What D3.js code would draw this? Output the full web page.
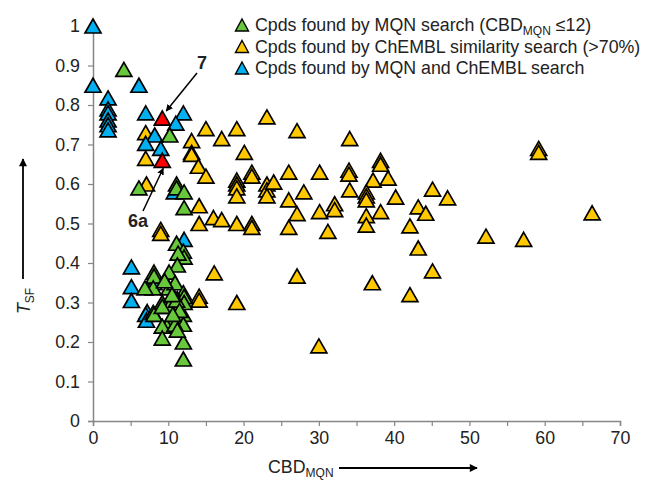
<!DOCTYPE html>
<html>
<head>
<meta charset="utf-8">
<script src="https://cdn.jsdelivr.net/npm/d3@7"></script>
<style>
  html, body { margin: 0; padding: 0; background: #fff; }
  svg { display: block; font-family: "Liberation Sans", Arial, sans-serif; }
</style>
</head>
<body>
<svg id="chart" width="647" height="484"></svg>
<script>
// Compounds found by MQN search only (CBD_MQN, T_SF)
const mqnX = [4.1, 10.2, 6.1, 11.1, 11.1, 12.1, 12.1, 11.1, 12.0, 12.1, 11.3, 11.2, 8.1, 8.1, 10.1, 8.0, 6.9, 10.1, 10.9, 12.0,
              11.2, 9.2, 10.1, 8.0, 8.1, 9.2, 12.0, 12.0, 10.2, 9.8, 9.2, 9.2, 12.0, 12.0, 10.9, 11.2, 12.1, 12.1, 11.1, 9.5,
              10.5, 11.5, 10.6];
const mqnY = [0.89, 0.724, 0.59, 0.60, 0.59, 0.58, 0.54, 0.45, 0.43, 0.415, 0.425, 0.395, 0.377, 0.367, 0.377, 0.337, 0.337, 0.337, 0.35, 0.325,
              0.31, 0.30, 0.29, 0.275, 0.27, 0.29, 0.27, 0.245, 0.255, 0.24, 0.24, 0.21, 0.20, 0.157, 0.245, 0.23, 0.315, 0.30, 0.306, 0.355,
              0.32, 0.28, 0.27];

// Compounds found by ChEMBL similarity search only
const chemblX = [7.0, 7.0, 7.1, 9.0, 9.0, 13.1, 13.1, 13.1, 15.0, 14.0, 15.0, 17.1, 19.1, 23.1, 27.1, 34.1, 20.1, 26.0, 30.1, 34.0,
                 34.0, 19.1, 19.1, 19.1, 21.1, 21.1, 23.1, 23.1, 23.1, 24.0, 19.1, 26.0, 28.0, 14.1, 27.1, 30.1, 32.1, 32.1, 34.1, 16.0,
                 17.1, 19.1, 21.1, 21.1, 14.1, 26.0, 31.2, 59.2, 59.2, 38.2, 38.2, 37.2, 39.2, 36.3, 36.3, 36.3, 40.2, 45.1, 47.1, 43.2,
                 44.2, 38.2, 36.3, 36.3, 42.1, 52.2, 57.2, 66.3, 43.2, 45.1, 37.1, 42.1, 27.1, 19.1, 30.0, 16.1, 14.1, 14.1];
const chemblY = [0.73, 0.665, 0.60, 0.485, 0.475, 0.71, 0.68, 0.675, 0.74, 0.645, 0.62, 0.715, 0.74, 0.77, 0.735, 0.715, 0.68, 0.63, 0.63, 0.635,
                 0.625, 0.61, 0.60, 0.59, 0.63, 0.62, 0.60, 0.585, 0.57, 0.605, 0.57, 0.56, 0.58, 0.545, 0.525, 0.53, 0.55, 0.535, 0.585, 0.515,
                 0.51, 0.50, 0.50, 0.49, 0.50, 0.49, 0.48, 0.69, 0.68, 0.66, 0.65, 0.61, 0.615, 0.58, 0.57, 0.56, 0.567, 0.587, 0.565, 0.542,
                 0.526, 0.53, 0.52, 0.496, 0.494, 0.468, 0.46, 0.527, 0.438, 0.38, 0.35, 0.32, 0.367, 0.30, 0.19, 0.375, 0.316, 0.306];

// Compounds found by both MQN and ChEMBL search
const bothX = [0, 0, 2, 2, 2, 2, 2, 2, 6.1, 7.0, 12.0, 11.0, 8.2, 7.0, 9.0, 10.8, 12.1, 5.1, 5.1, 5.1, 8.1, 7.2, 7.0, 7.1];
const bothY = [1.0, 0.85, 0.818, 0.79, 0.78, 0.762, 0.75, 0.737, 0.85, 0.78, 0.78, 0.754, 0.724, 0.703, 0.69, 0.58, 0.46, 0.39, 0.34, 0.305, 0.35, 0.277, 0.27, 0.255];

// Highlighted compounds 7 and 6a
const highlightX = [9.2, 9.2];
const highlightY = [0.767, 0.66];
const highlightLabels = ["7", "6a"];

const xTicks = [0, 10, 20, 30, 40, 50, 60, 70];
const yTicks = [0, 0.1, 0.2, 0.3, 0.4, 0.5, 0.6, 0.7, 0.8, 0.9, 1];

const legendLabels = [
  ["Cpds found by MQN search (CBD", "MQN", " \u226412)"],
  ["Cpds found by ChEMBL similarity search (>70%)"],
  ["Cpds found by MQN and ChEMBL search"]
];

const colGreen = "#66C83A", colYellow = "#FFC800", colBlue = "#00B0F0", colRed = "#FF0000";
const axisColor = "#868686", textColor = "#222";
const fontSize = 17.8, subSize = 12;

const svg = d3.select("#chart");
const x = d3.scaleLinear().domain([0, 70]).range([93, 620]);
const y = d3.scaleLinear().domain([0, 1]).range([421, 26]);

const tri = (w, h) => `M0,${-h / 2}L${w / 2},${h / 2}L${-w / 2},${h / 2}Z`;

// Axes
const yAxis = svg.append("g").attr("transform", `translate(${x(0)},0)`)
  .call(d3.axisLeft(y).tickValues(yTicks).tickSize(5).tickPadding(8)
    .tickFormat(d => (d === 0 || d === 1) ? String(d) : d3.format(".1f")(d)));
const xAxis = svg.append("g").attr("transform", `translate(0,${y(0)})`)
  .call(d3.axisBottom(x).tickValues(d3.range(0, 71, 5)).tickSize(5).tickPadding(5)
    .tickFormat(d => xTicks.includes(d) ? d : ""));
[yAxis, xAxis].forEach(g => {
  g.selectAll("path.domain").attr("stroke", axisColor).attr("stroke-width", 1.5);
  g.selectAll(".tick line").attr("stroke", axisColor).attr("stroke-width", 1.2);
  g.selectAll(".tick text").attr("fill", textColor).style("font-size", fontSize + "px")
    .style("font-family", "'Liberation Sans', Arial, sans-serif");
});

// Points
function drawSeries(xs, ys, color) {
  svg.append("g").selectAll("path").data(xs.map((v, i) => [v, ys[i]])).join("path")
    .attr("d", tri(16, 14))
    .attr("transform", d => `translate(${x(d[0])},${y(d[1])})`)
    .attr("fill", color).attr("stroke", "#000").attr("stroke-width", 1.7)
    .attr("stroke-linejoin", "miter");
}
drawSeries(chemblX, chemblY, colYellow);
drawSeries(bothX, bothY, colBlue);
drawSeries(mqnX, mqnY, colGreen);
drawSeries(highlightX, highlightY, colRed);

// Arrowhead markers
const defs = svg.append("defs");
defs.append("marker").attr("id", "ah").attr("viewBox", "0 0 10 10")
  .attr("refX", 9).attr("refY", 5).attr("markerWidth", 7).attr("markerHeight", 7)
  .attr("orient", "auto").attr("markerUnits", "userSpaceOnUse")
  .append("path").attr("d", "M0,0L10,5L0,10Z").attr("fill", "#000");
defs.append("marker").attr("id", "ah2").attr("viewBox", "0 0 10 10")
  .attr("refX", 9).attr("refY", 5).attr("markerWidth", 10).attr("markerHeight", 8)
  .attr("orient", "auto").attr("markerUnits", "userSpaceOnUse")
  .append("path").attr("d", "M0,0L10,5L0,10Z").attr("fill", "#000");

// Callouts for compounds 7 and 6a
const callouts = [
  { label: highlightLabels[0], tx: 202, ty: 69, from: [197, 73], to: [x(highlightX[0]) + 4, y(highlightY[0]) - 7] },
  { label: highlightLabels[1], tx: 138, ty: 227, from: [143, 211], to: [x(highlightX[1]) + 1, y(highlightY[1]) + 8] }
];
callouts.forEach(c => {
  svg.append("line").attr("x1", c.from[0]).attr("y1", c.from[1]).attr("x2", c.to[0]).attr("y2", c.to[1])
    .attr("stroke", "#000").attr("stroke-width", 1.5).attr("marker-end", "url(#ah)");
  svg.append("text").attr("x", c.tx).attr("y", c.ty).attr("text-anchor", "middle")
    .attr("font-weight", "bold").attr("font-size", 18).attr("fill", "#222").text(c.label);
});

// Legend
const legendColors = [colGreen, colYellow, colBlue];
legendLabels.forEach((parts, i) => {
  const ly = 25 + i * 21.5;
  svg.append("path").attr("d", tri(13, 12)).attr("transform", `translate(242,${ly})`)
    .attr("fill", legendColors[i]).attr("stroke", "#000").attr("stroke-width", 1.4);
  const t = svg.append("text").attr("x", 255).attr("y", ly + 6).attr("font-size", fontSize).attr("fill", textColor);
  t.append("tspan").text(parts[0]);
  if (parts.length > 1) {
    t.append("tspan").attr("font-size", subSize).attr("dy", 4).text(parts[1]);
    t.append("tspan").attr("dy", -4).text(parts[2]);
  }
});

// Axis titles with direction arrows
const xt = svg.append("text").attr("x", 268).attr("y", 473).attr("font-size", fontSize).attr("fill", textColor);
xt.append("tspan").text("CBD");
xt.append("tspan").attr("font-size", subSize).attr("dy", 4).text("MQN");
svg.append("line").attr("x1", 339).attr("y1", 468).attr("x2", 477).attr("y2", 468)
  .attr("stroke", "#000").attr("stroke-width", 1.8).attr("marker-end", "url(#ah2)");

const yt = svg.append("text").attr("transform", "translate(30,301) rotate(-90)")
  .attr("font-size", fontSize).attr("fill", textColor).attr("text-anchor", "middle");
yt.append("tspan").attr("font-style", "italic").text("T");
yt.append("tspan").attr("font-size", subSize).attr("dy", 4).text("SF");
svg.append("line").attr("x1", 23).attr("y1", 279).attr("x2", 23).attr("y2", 159)
  .attr("stroke", "#000").attr("stroke-width", 1.8).attr("marker-end", "url(#ah2)");
</script>
</body>
</html>
